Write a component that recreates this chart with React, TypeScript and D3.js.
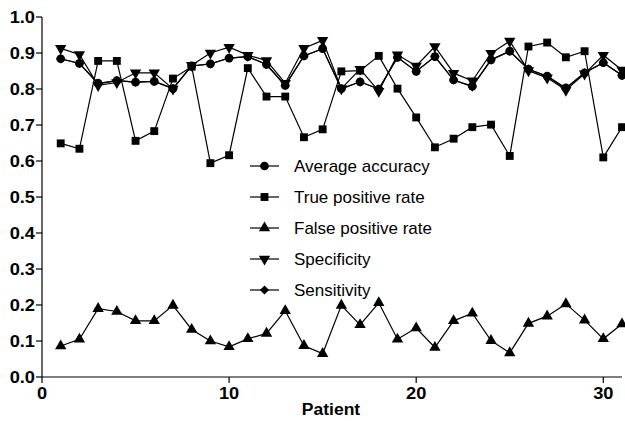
import React from "react";
import * as d3 from "d3";

const patients = d3.range(1, 32);
const accuracy = [0.884, 0.871, 0.816, 0.823, 0.819, 0.821, 0.801, 0.864, 0.870, 0.886, 0.890, 0.868, 0.810, 0.892, 0.912, 0.801, 0.820, 0.800, 0.888, 0.849, 0.890, 0.825, 0.808, 0.881, 0.905, 0.855, 0.836, 0.803, 0.845, 0.873, 0.838];
const tpr = [0.649, 0.634, 0.878, 0.878, 0.656, 0.683, 0.829, 0.862, 0.594, 0.616, 0.858, 0.779, 0.779, 0.666, 0.688, 0.849, 0.851, 0.892, 0.801, 0.721, 0.638, 0.662, 0.694, 0.701, 0.614, 0.918, 0.929, 0.888, 0.905, 0.610, 0.694];
const fpr = [0.086, 0.105, 0.190, 0.182, 0.156, 0.156, 0.199, 0.132, 0.100, 0.084, 0.106, 0.121, 0.184, 0.087, 0.065, 0.199, 0.145, 0.206, 0.105, 0.136, 0.082, 0.156, 0.177, 0.101, 0.067, 0.149, 0.169, 0.203, 0.158, 0.106, 0.147];
const specificity = [0.913, 0.896, 0.810, 0.818, 0.845, 0.845, 0.800, 0.866, 0.900, 0.916, 0.894, 0.879, 0.816, 0.913, 0.935, 0.801, 0.855, 0.794, 0.895, 0.864, 0.918, 0.844, 0.823, 0.899, 0.933, 0.851, 0.831, 0.797, 0.842, 0.894, 0.853];
const sensitivity = [0.884, 0.871, 0.814, 0.823, 0.819, 0.821, 0.801, 0.864, 0.870, 0.886, 0.890, 0.868, 0.810, 0.892, 0.912, 0.800, 0.820, 0.800, 0.888, 0.849, 0.890, 0.825, 0.806, 0.881, 0.905, 0.855, 0.835, 0.801, 0.845, 0.873, 0.838];

const seriesNames = ["Average accuracy", "True positive rate", "False positive rate", "Specificity", "Sensitivity"];
const seriesValues = [accuracy, tpr, fpr, specificity, sensitivity];
const seriesSymbols = ["circle", "square", "triangle", "triangleDown", "diamond"];

const xTicks = [0, 10, 20, 30];
const yTicks = [0, 0.1, 0.2, 0.3, 0.4, 0.5, 0.6, 0.7, 0.8, 0.9, 1.0];

const W = 625, H = 421;
const x = d3.scaleLinear().domain([0, 31]).range([42, 622]);
const y = d3.scaleLinear().domain([0, 1]).range([377, 17]);

function symbolPath(kind: string): { d: string; rot: number } {
  if (kind === "circle") return { d: d3.symbol(d3.symbolCircle, 60)()!, rot: 0 };
  if (kind === "square") return { d: d3.symbol(d3.symbolSquare, 62)()!, rot: 0 };
  if (kind === "triangle") return { d: d3.symbol(d3.symbolTriangle, 56)()!, rot: 0 };
  if (kind === "triangleDown") return { d: d3.symbol(d3.symbolTriangle, 56)()!, rot: 180 };
  return { d: d3.symbol(d3.symbolSquare, 42)()!, rot: 45 };
}

const Marker = ({ kind, cx, cy }: { kind: string; cx: number; cy: number }) => {
  const s = symbolPath(kind);
  return <path d={s.d} transform={`translate(${cx},${cy}) rotate(${s.rot})`} fill="#000" />;
};

export default function App() {
  const line = d3.line<number>().x((_, i) => x(patients[i])).y((v) => y(v));
  const font = "Arial, 'Liberation Sans', sans-serif";
  const legendX = 250, legendY0 = 166, legendDy = 31;
  const sx = 1.14;
  return (
    <svg width={W} height={H} style={{ position: "absolute", left: 0, top: 0, background: "#fff" }}>
      <rect width={W} height={H} fill="#fff" />
      {/* axes */}
      <line x1={x(0)} x2={x(0)} y1={y(1)} y2={y(0)} stroke="#000" strokeWidth={1.2} />
      <line x1={x(0)} x2={x(31)} y1={y(0)} y2={y(0)} stroke="#000" strokeWidth={1.2} />
      {yTicks.map((t) => (
        <g key={"y" + t}>
          <line x1={x(0) - 6} x2={x(0)} y1={y(t)} y2={y(t)} stroke="#000" strokeWidth={1.2} />
          <text transform={`translate(${x(0) - 7},${y(t)}) scale(${sx},1)`} dy="0.36em" textAnchor="end" fontFamily={font} fontWeight="bold" fontSize={16}>
            {d3.format(".1f")(t)}
          </text>
        </g>
      ))}
      {xTicks.map((t) => (
        <g key={"x" + t}>
          <line x1={x(t)} x2={x(t)} y1={y(0)} y2={y(0) + 6} stroke="#000" strokeWidth={1.2} />
          <text transform={`translate(${x(t)},${y(0) + 22}) scale(${sx},1)`} textAnchor="middle" fontFamily={font} fontWeight="bold" fontSize={16}>
            {t}
          </text>
        </g>
      ))}
      <text transform={`translate(331,415) scale(1.03,1)`} textAnchor="middle" fontFamily={font} fontWeight="bold" fontSize={17}>
        Patient
      </text>
      {/* series */}
      {seriesValues.map((vals, si) => (
        <g key={"s" + si}>
          <path d={line(vals)!} fill="none" stroke="#000" strokeWidth={1.2} />
          {vals.map((v, i) => (
            <Marker key={i} kind={seriesSymbols[si]} cx={x(patients[i])} cy={y(v)} />
          ))}
        </g>
      ))}
      {/* legend */}
      {seriesNames.map((name, i) => {
        const ly = legendY0 + i * legendDy;
        return (
          <g key={"l" + i}>
            <line x1={legendX} x2={legendX + 29} y1={ly} y2={ly} stroke="#000" strokeWidth={1.2} />
            <Marker kind={seriesSymbols[i]} cx={legendX + 14.5} cy={ly} />
            <text x={294} y={ly} dy="0.36em" fontFamily={font} fontSize={17}>
              {name}
            </text>
          </g>
        );
      })}
    </svg>
  );
}
